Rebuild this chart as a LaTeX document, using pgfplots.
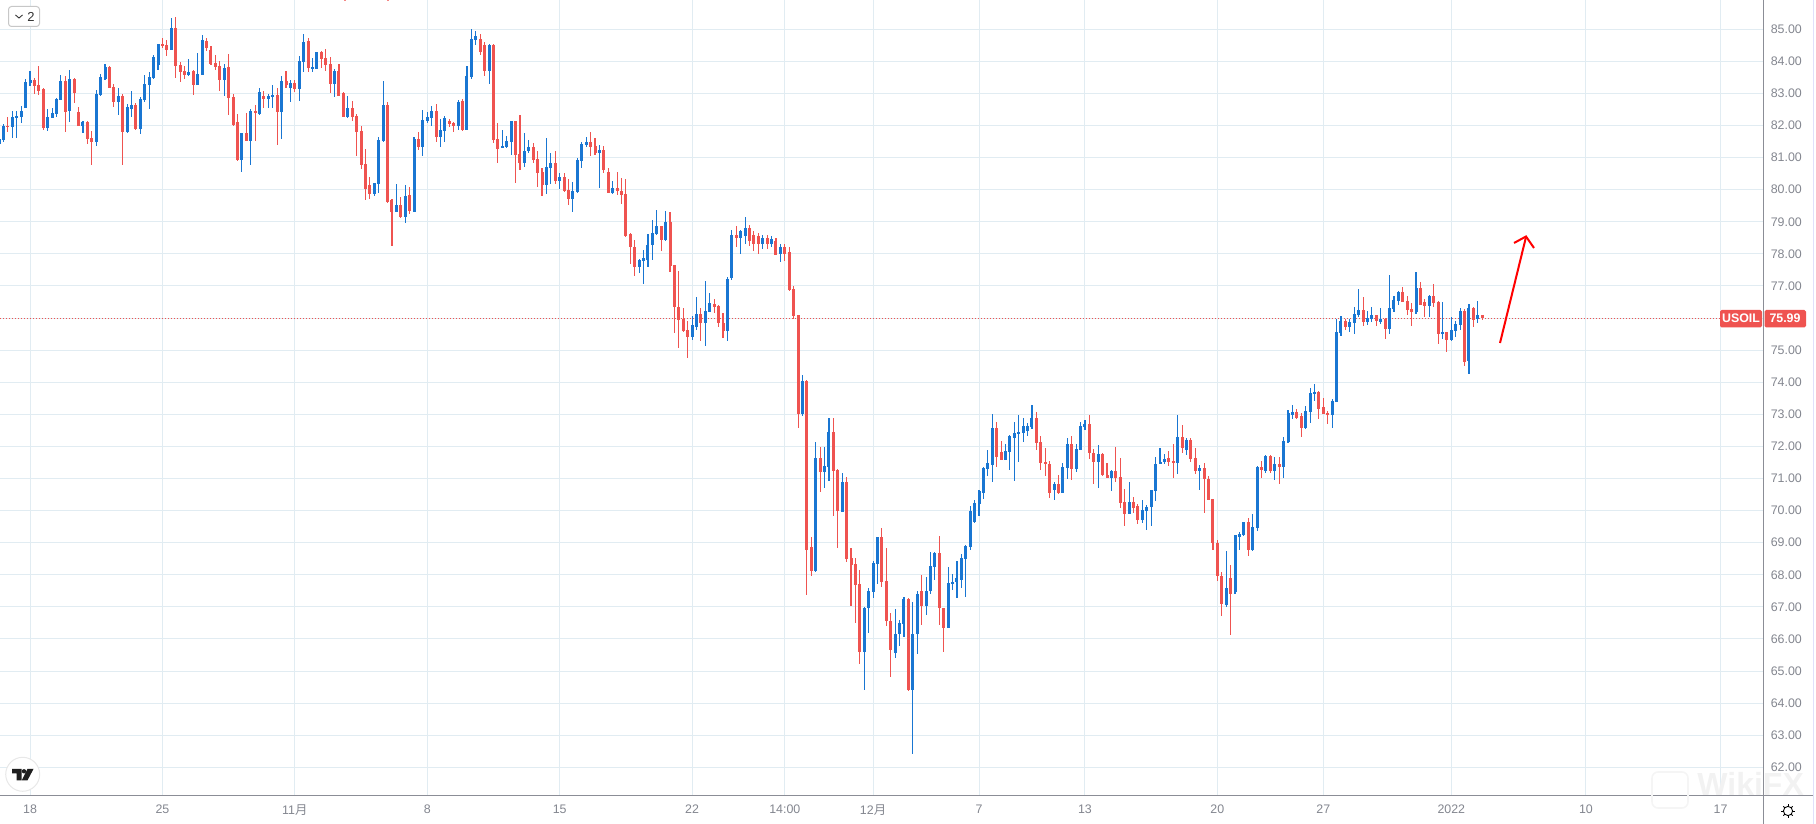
\documentclass[border=0pt]{standalone}
\usepackage{pgfplots}
\usepackage{pgfplotstable}
\usepackage{fontspec}
\usetikzlibrary{calc}
\setmainfont{Liberation Sans}
\newfontfamily\cjk{Noto Sans CJK SC}
\pgfplotsset{compat=1.18}
\definecolor{cblue}{HTML}{1976D2}
\definecolor{cred}{HTML}{EF5350}
\definecolor{cgrid}{HTML}{E1ECF2}
\definecolor{ctick}{HTML}{83868F}
\definecolor{caxis}{HTML}{8B8D96}
\pgfplotstableread{
k o h l c
-7 81.43 81.60 81.40 81.57
-6 81.55 82.05 81.50 81.99
-5 81.99 82.28 81.81 81.96
-4 81.96 82.46 81.62 82.27
-3 82.24 82.46 81.62 82.30
-2 82.27 82.61 82.08 82.46
-1 82.55 83.45 82.53 83.36
0 83.33 83.70 83.23 83.42
1 83.42 83.48 82.98 83.23
2 83.27 83.86 82.95 83.08
3 83.14 83.17 81.86 81.93
4 81.93 82.52 81.83 82.27
5 82.24 82.55 82.24 82.39
6 82.36 82.86 82.27 82.83
7 82.80 83.58 82.78 83.39
8 83.39 83.55 81.80 82.42
9 82.46 83.73 82.11 83.45
10 83.45 83.48 82.70 83.02
11 82.42 82.58 81.99 81.99
12 81.99 82.14 81.77 82.11
13 82.11 82.13 81.43 81.58
14 81.61 81.83 80.77 81.49
15 81.49 83.11 81.36 82.98
16 82.95 83.61 82.92 83.51
17 83.45 83.92 83.43 83.82
18 83.82 83.85 83.17 83.17
19 83.20 83.30 82.58 82.73
20 82.73 83.17 82.33 82.92
21 82.92 82.98 80.77 81.80
22 81.80 82.67 81.78 82.58
23 82.52 83.08 82.27 82.64
24 82.64 82.70 81.86 81.90
25 81.90 82.89 81.74 82.83
26 82.80 83.58 82.73 83.30
27 83.27 83.67 82.52 83.51
28 83.48 84.20 83.45 84.14
29 83.89 84.55 83.73 84.54
30 84.54 84.73 84.42 84.48
31 84.51 84.67 84.17 84.36
32 84.36 85.35 84.34 85.04
33 85.04 85.38 83.48 83.86
34 83.89 83.98 83.36 83.67
35 83.70 83.86 83.45 83.58
36 83.58 84.07 83.55 83.67
37 83.70 83.72 82.95 83.27
38 83.27 84.26 83.25 83.61
39 83.58 84.82 83.56 84.67
40 84.64 84.73 84.32 84.42
41 84.36 84.48 83.89 83.92
42 83.95 84.20 83.73 83.82
43 83.86 84.01 83.08 83.42
44 83.42 83.92 82.92 83.79
45 83.82 84.23 82.33 82.86
46 82.89 82.98 81.99 82.02
47 82.11 82.36 80.90 80.93
48 80.93 81.78 80.55 81.77
49 81.77 82.39 81.51 81.52
50 81.52 82.52 80.77 82.46
51 82.46 82.64 81.52 82.39
52 82.36 83.17 82.34 83.05
53 82.92 83.08 82.55 82.83
54 82.83 82.98 82.55 82.92
55 82.89 83.27 82.55 82.95
56 82.95 83.17 81.39 82.42
57 82.42 83.55 81.58 83.39
58 83.39 83.70 83.17 83.27
59 83.17 83.42 82.73 83.33
60 83.33 83.42 83.05 83.14
61 83.14 84.17 82.77 84.01
62 83.98 84.85 83.67 84.61
63 84.64 84.73 83.67 83.79
64 83.79 84.11 83.67 83.82
65 83.77 84.30 83.75 84.29
66 84.29 84.32 83.79 84.08
67 84.11 84.39 83.70 83.89
68 83.92 84.14 83.02 83.30
69 83.30 83.76 82.89 83.70
70 83.70 83.92 82.92 82.93
71 83.02 83.05 82.27 82.28
72 82.28 82.92 82.24 82.55
73 82.55 82.77 82.14 82.28
74 82.30 82.36 81.05 81.80
75 81.83 81.99 80.65 80.77
76 80.80 81.27 79.68 80.03
77 80.15 80.40 79.71 79.87
78 79.87 80.21 79.81 80.20
79 80.18 81.65 79.90 81.55
80 81.52 83.39 81.50 82.64
81 82.64 82.73 79.59 79.62
82 79.67 79.70 78.26 79.29
83 79.32 80.17 79.30 79.51
84 79.51 79.76 79.13 79.14
85 79.14 80.14 78.95 79.79
86 79.82 80.07 79.23 79.32
87 79.32 81.63 79.29 81.57
88 81.57 81.79 81.23 81.32
89 81.32 82.48 81.04 82.17
90 82.14 82.42 82.07 82.26
91 82.23 82.60 81.98 82.45
92 82.45 82.67 81.48 81.63
93 81.63 82.20 81.32 81.85
94 81.82 82.29 81.48 82.23
95 82.13 82.20 81.95 82.04
96 82.07 82.10 81.79 81.98
97 81.98 82.79 81.85 82.73
98 82.76 82.82 81.82 81.85
99 81.86 83.85 81.85 83.54
100 83.51 85.00 83.45 84.70
101 84.65 84.95 84.50 84.80
102 84.70 84.85 84.20 84.30
103 84.50 84.60 83.55 83.70
104 83.70 84.55 83.30 84.50
105 84.50 84.55 81.47 81.54
106 81.58 82.07 80.83 81.26
107 81.29 81.86 81.29 81.36
108 81.33 81.67 81.31 81.51
109 81.48 82.14 81.08 82.14
110 82.14 82.15 80.20 81.08
111 81.11 82.33 80.61 80.83
112 80.83 81.76 80.70 81.20
113 81.20 81.54 81.14 81.33
114 81.33 81.45 80.83 80.92
115 80.95 81.20 80.08 80.51
116 80.55 80.67 79.80 80.14
117 80.14 81.61 79.86 80.70
118 80.67 81.14 80.17 80.83
119 80.83 81.20 80.17 80.26
120 80.26 80.51 80.01 80.39
121 80.39 80.51 79.92 79.95
122 79.98 80.33 79.52 79.70
123 79.70 80.23 79.30 79.95
124 79.92 80.98 79.89 80.92
125 80.89 81.48 80.67 81.42
126 81.39 81.64 81.33 81.48
127 81.48 81.79 81.05 81.33
128 81.36 81.61 81.08 81.14
129 81.14 81.39 80.05 81.23
130 81.23 81.36 80.51 80.61
131 80.55 80.67 79.89 79.89
132 79.89 80.26 79.86 80.05
133 80.05 80.55 79.83 79.95
134 79.95 80.36 79.55 79.83
135 79.86 80.33 78.52 78.55
136 78.61 78.64 77.67 78.20
137 78.20 78.42 77.30 77.58
138 77.58 77.83 77.39 77.80
139 77.77 78.11 77.05 77.86
140 77.80 78.61 77.58 78.27
141 78.27 79.05 77.80 78.64
142 78.61 79.36 78.59 78.86
143 78.86 78.87 78.08 78.42
144 78.42 79.33 78.40 78.98
145 78.98 79.30 77.45 77.61
146 77.64 77.65 75.55 76.33
147 76.36 77.48 75.08 75.95
148 75.98 76.30 75.55 75.61
149 75.64 75.92 74.77 75.42
150 75.42 76.05 75.33 75.77
151 75.73 76.67 75.64 76.14
152 76.14 76.30 75.27 75.86
153 75.86 77.14 75.14 76.23
154 76.20 76.79 76.18 76.48
155 76.45 76.58 76.17 76.36
156 76.39 76.42 75.73 75.83
157 75.86 76.17 75.39 75.61
158 75.61 77.29 75.30 77.23
159 77.24 78.73 77.20 78.58
160 78.58 78.86 78.20 78.49
161 78.50 78.75 78.00 78.70
162 78.55 79.15 78.30 78.80
163 78.80 78.90 78.25 78.40
164 78.60 78.70 78.08 78.30
165 78.55 78.65 78.00 78.30
166 78.30 78.60 78.15 78.50
167 78.50 78.60 78.15 78.30
168 78.30 78.55 78.20 78.45
169 78.40 78.50 77.95 77.98
170 78.00 78.30 77.76 78.20
171 78.20 78.30 77.79 78.00
172 78.07 78.20 76.83 76.86
173 76.92 77.01 75.96 76.05
174 76.08 76.10 72.58 73.02
175 73.02 74.24 72.96 74.05
176 74.05 74.06 67.38 68.78
177 68.87 69.18 67.97 68.12
178 68.12 72.15 68.10 71.65
179 71.65 71.99 70.59 71.21
180 71.21 71.99 70.71 71.40
181 71.37 72.90 70.93 72.46
182 72.46 72.87 69.84 71.24
183 71.27 71.30 68.84 69.99
184 69.97 71.18 69.95 70.90
185 70.90 71.06 68.40 68.50
186 68.53 68.84 67.03 68.31
187 68.34 68.53 66.50 67.69
188 67.72 68.16 65.23 65.60
189 65.60 67.01 64.42 66.95
190 66.98 67.60 66.20 67.48
191 67.45 68.42 67.29 68.38
192 68.34 69.19 67.72 69.19
193 69.19 69.47 67.63 67.78
194 67.81 68.84 66.41 66.57
195 66.57 66.82 64.82 65.67
196 65.57 66.92 65.42 66.17
197 66.17 66.60 65.79 66.51
198 66.48 67.32 66.07 67.26
199 67.26 67.29 64.38 64.42
200 64.42 67.14 62.42 66.17
201 66.14 67.48 65.54 67.39
202 67.51 67.98 66.42 67.04
203 67.04 67.92 66.76 67.51
204 67.48 68.70 67.39 68.26
205 68.23 68.70 67.85 68.67
206 68.67 69.20 66.45 66.95
207 66.95 66.96 65.60 66.35
208 66.35 68.23 66.33 67.73
209 67.70 68.01 67.51 67.79
210 67.76 68.42 67.29 67.89
211 67.85 68.64 67.60 68.51
212 68.48 68.93 67.32 68.89
213 68.87 70.13 68.76 70.00
214 69.63 70.32 69.60 70.25
215 70.19 70.63 69.82 70.60
216 70.56 71.37 70.35 71.34
217 71.31 71.90 71.09 71.47
218 71.43 73.02 70.88 72.58
219 72.58 72.77 71.37 71.68
220 71.84 72.18 71.58 71.59
221 71.59 72.09 71.57 71.87
222 71.84 72.37 71.25 72.31
223 72.27 72.77 70.91 72.43
224 72.40 72.99 71.50 72.46
225 72.43 72.87 72.15 72.65
226 72.49 72.74 72.34 72.65
227 72.62 73.30 72.53 72.90
228 72.90 73.08 71.90 72.12
229 72.15 72.31 71.28 71.47
230 71.50 71.96 71.09 71.44
231 71.44 71.53 70.38 70.56
232 70.63 70.88 70.32 70.84
233 70.84 71.12 70.53 70.56
234 70.56 71.47 70.54 71.37
235 71.34 72.27 70.97 72.09
236 72.09 72.31 70.94 71.31
237 71.31 72.09 71.19 71.93
238 71.90 72.77 71.88 72.65
239 72.62 72.83 72.52 72.71
240 72.71 72.99 71.62 71.78
241 71.81 71.93 70.84 71.50
242 71.50 72.03 70.69 71.75
243 71.75 71.78 71.09 71.12
244 71.12 71.47 71.03 71.03
245 71.03 71.28 70.60 71.22
246 71.22 71.99 70.88 71.03
247 71.06 71.65 70.07 70.25
248 70.28 70.66 69.51 69.91
249 69.91 70.88 69.89 70.28
250 70.28 70.41 69.94 70.07
251 70.13 70.22 69.57 69.70
252 69.70 70.32 69.60 70.01
253 69.98 70.19 69.39 70.10
254 70.10 70.63 69.51 70.63
255 70.60 71.66 70.29 71.44
256 71.44 71.94 71.44 71.53
257 71.50 71.75 71.44 71.60
258 71.63 71.87 71.38 71.53
259 71.56 72.09 71.03 71.47
260 71.47 72.97 71.13 72.28
261 72.28 72.66 71.81 71.94
262 71.88 72.25 71.72 72.19
263 72.19 72.25 71.50 71.60
264 71.63 71.94 71.13 71.22
265 71.22 71.41 70.63 71.32
266 71.32 71.47 69.91 70.97
267 71.00 71.07 70.32 70.32
268 70.35 70.36 68.76 68.98
269 69.00 69.07 67.80 67.95
270 67.95 68.10 66.72 67.10
271 67.05 68.73 67.00 67.60
272 67.90 68.30 66.12 67.40
273 67.45 69.24 67.40 69.23
274 69.17 69.32 68.76 69.26
275 69.23 69.63 69.20 69.63
276 69.63 69.76 68.58 68.76
277 68.76 69.91 68.73 69.48
278 69.45 71.38 69.35 71.35
279 71.35 71.53 71.03 71.25
280 71.22 71.72 71.16 71.69
281 71.69 71.72 71.16 71.22
282 71.22 71.66 70.94 71.44
283 71.44 71.66 70.82 71.35
284 71.35 72.28 71.03 72.16
285 72.13 73.12 72.10 73.03
286 72.97 73.28 72.84 73.06
287 73.06 73.18 72.87 72.90
288 72.94 73.03 72.28 72.56
289 72.56 73.25 72.53 73.09
290 73.06 73.81 72.72 73.65
291 73.62 73.93 73.43 73.71
292 73.71 73.72 72.87 73.18
293 73.22 73.50 73.00 73.00
294 73.03 73.09 72.69 72.97
295 72.97 73.47 72.56 73.43
296 73.40 75.96 73.37 75.58
297 75.54 76.07 75.45 75.92
298 75.92 75.98 75.64 75.73
299 75.73 75.98 75.57 75.89
300 75.85 76.35 75.51 76.13
301 76.10 76.92 76.04 76.26
302 76.26 76.67 75.76 75.89
303 75.89 76.23 75.79 76.01
304 75.98 76.35 75.89 76.10
305 76.10 76.11 75.76 75.92
306 75.89 76.32 75.82 75.98
307 75.98 76.01 75.35 75.67
308 75.67 77.35 75.51 76.32
309 76.29 76.70 76.20 76.57
310 76.54 76.83 76.42 76.82
311 76.82 76.98 76.50 76.51
312 76.54 76.70 76.10 76.26
313 76.29 76.48 75.76 76.20
314 76.20 77.42 76.13 76.95
315 76.95 77.13 76.41 76.42
316 76.51 76.60 76.04 76.38
317 76.38 76.73 76.04 76.70
318 76.70 77.07 76.35 76.48
319 76.51 76.54 75.20 75.51
320 75.51 76.51 75.35 75.57
321 75.57 75.58 74.95 75.32
322 75.32 76.04 75.30 75.64
323 75.60 75.92 75.42 75.82
324 75.79 76.32 75.64 76.23
325 76.23 76.29 74.51 74.63
326 74.67 76.45 74.26 76.32
327 76.32 76.35 75.73 75.95
328 75.98 76.54 75.85 76.10
329 76.10 76.11 75.95 75.99
}\candles
\begin{document}
\begin{tikzpicture}
\path[use as bounding box] (0,-14pt) rectangle (908pt,398pt);
\begin{axis}[
  at={(0,0)}, anchor=south west,
  scale only axis, width=881.85pt, height=398pt,
  xmin=-6.797, xmax=392.77, ymin=61.106, ymax=85.911,
  axis x line*=bottom, axis y line*=right,
  axis line style={draw=none},
  tick style={draw=none},
  grid=major,
  grid style={cgrid, line width=0.5pt},
  ytick={62,63,...,85},
  xtick={0,30,60,90,120,150,171,191,215,239,269,293,322,352.5,383},
  xticklabels={18,25,{11{\cjk 月}},8,15,22,14:00,{12{\cjk 月}},7,13,20,27,2022,10,17},
  tick label style={font=\fontsize{6.2}{7.5}\selectfont, text=ctick},
  yticklabel style={/pgf/number format/fixed, /pgf/number format/fixed zerofill, /pgf/number format/precision=2, /pgf/number format/assume math mode=true, anchor=west, xshift=0pt},
  xticklabel style={anchor=north, yshift=-1pt},
  clip=true,
]
\addplot[forget plot, draw=cred, line width=0.5pt, dash pattern=on 0.5pt off 1pt] coordinates {(-6.797,75.99) (392.77,75.99)};
% wicks
\addplot[forget plot, draw=none, mark=none, error bars/.cd, y dir=both, y explicit, error mark=none, error bar style={line width=0.55pt, draw=cblue, solid}]
  table[x expr={\thisrow{c}>=\thisrow{o} ? \thisrow{k} : nan}, y expr={(\thisrow{h}+\thisrow{l})/2}, y error expr={(\thisrow{h}-\thisrow{l})/2}] {\candles};
\addplot[forget plot, draw=none, mark=none, error bars/.cd, y dir=both, y explicit, error mark=none, error bar style={line width=0.55pt, draw=cred, solid}]
  table[x expr={\thisrow{c}<\thisrow{o} ? \thisrow{k} : nan}, y expr={(\thisrow{h}+\thisrow{l})/2}, y error expr={(\thisrow{h}-\thisrow{l})/2}] {\candles};
% bodies
\addplot[forget plot, draw=none, mark=none, error bars/.cd, y dir=both, y explicit, error mark=none, error bar style={line width=1.5pt, draw=cblue, solid}]
  table[x expr={\thisrow{c}>=\thisrow{o} ? \thisrow{k} : nan}, y expr={(\thisrow{o}+\thisrow{c})/2}, y error expr={abs(\thisrow{c}-\thisrow{o})/2}] {\candles};
\addplot[forget plot, draw=none, mark=none, error bars/.cd, y dir=both, y explicit, error mark=none, error bar style={line width=1.5pt, draw=cred, solid}]
  table[x expr={\thisrow{c}<\thisrow{o} ? \thisrow{k} : nan}, y expr={(\thisrow{o}+\thisrow{c})/2}, y error expr={abs(\thisrow{c}-\thisrow{o})/2}] {\candles};
\end{axis}
\begin{scope}[x=0.5pt,y=-0.5pt,yshift=398pt]
  % scale frame
  \draw[caxis, line width=0.5pt] (0,796)--(1813,796);
  \draw[caxis, line width=0.5pt] (1763.7,0)--(1763.7,824);
  \draw[black!12!blue!12!white, line width=0.5pt] (1813,0)--(1813,824);
  % last price label
  \fill[cred, rounded corners=0.8pt] (1720,310)--(1762,310)--(1762,327.5)--(1720,327.5)--cycle;
  \fill[cred, rounded corners=0.8pt] (1764.5,310)--(1806,310)--(1806,327.5)--(1764.5,327.5)--cycle;
  \node[text=white, font=\fontsize{6.2}{7}\bfseries, inner sep=0pt] at (1741,318.7) {USOIL};
  \node[text=white, font=\fontsize{6.2}{7}\bfseries, inner sep=0pt] at (1785,318.7) {75.99};
  % arrow
  \draw[red, line width=1pt] (1500,343)--(1526,237);
  \draw[red, line width=1pt] (1514,243)--(1526,236.5)--(1534,248);
  % interval button
  \draw[black!22, fill=white, rounded corners=1.5pt, line width=0.5pt] (8.5,6.5) rectangle (39.5,26.5);
  \draw[black!80, line width=0.45pt] (15.5,15)--(19,18)--(22.5,15);
  \node[text=black!80, font=\fontsize{6.5}{7}\selectfont, inner sep=0pt] at (31,16.5) {2};
  % marks clipped at the top edge
  \fill[cred!70] (344,0) rectangle (346,1.2);
  \fill[cred!70] (387,0) rectangle (389,1.2);
  % logo
  \draw[black!9, fill=white, line width=0.5pt] (22.7,774.3) circle[radius=17];
  \fill[black!88] (12,769)--(21.5,769)--(21.5,780.3)--(16.5,780.3)--(16.5,773.5)--(12,773.5)--cycle;
  \fill[black!88] (24,771.3) circle[radius=2.2];
  \fill[black!88] (27.5,769)--(33.5,769)--(27.5,780.3)--(21.8,780.3)--cycle;
  % settings icon
  \draw[black, line width=0.45pt] (1788,811) circle[radius=4.6];
  \foreach \a in {0,45,...,315}{\draw[black, line width=0.45pt] ($(1788,811)+(\a:4.6)$)--($(1788,811)+(\a:6.6)$);}
  % watermark
  \draw[black!4, rounded corners=3pt, line width=0.8pt] (1652,772) rectangle (1688,808);
  \node[text=black!5, font=\fontsize{16}{16}\bfseries, inner sep=0pt, anchor=west] at (1697,784) {WikiFX};
\end{scope}
\end{tikzpicture}
\end{document}
